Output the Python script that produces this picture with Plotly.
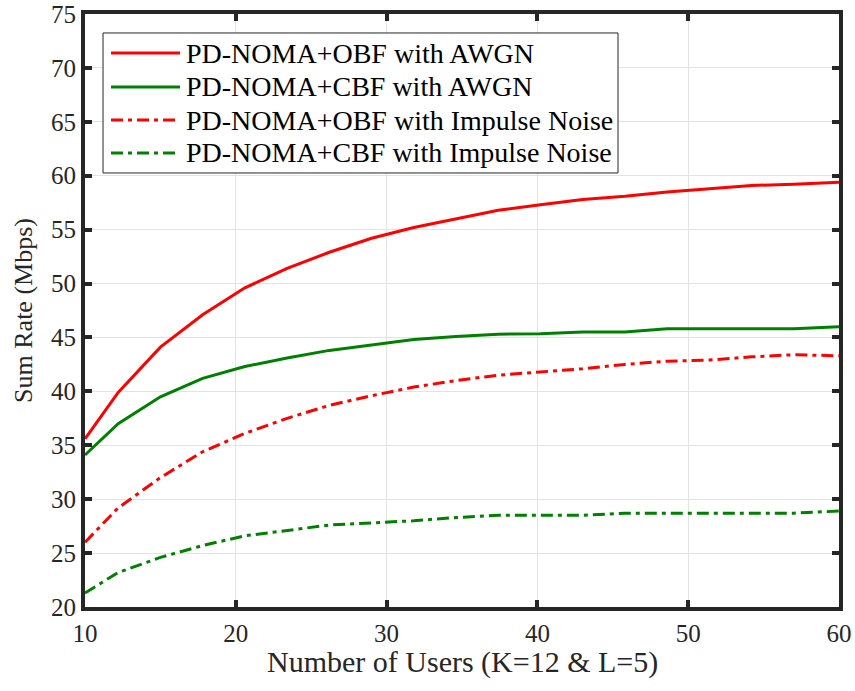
import plotly.graph_objects as go

users = [10, 12.2, 15, 17.8, 20.6, 23.4, 26.2, 29, 31.8, 34.6, 37.4, 40.2, 43, 45.8, 48.6, 51.4, 54.2, 57, 60]
obf_awgn = [35.6, 39.9, 44.1, 47.1, 49.6, 51.4, 52.9, 54.2, 55.2, 56.0, 56.8, 57.3, 57.8, 58.1, 58.5, 58.8, 59.1, 59.2, 59.4]
cbf_awgn = [34.1, 37.0, 39.5, 41.2, 42.3, 43.1, 43.8, 44.3, 44.8, 45.1, 45.3, 45.35, 45.5, 45.5, 45.8, 45.8, 45.8, 45.8, 46.0]
obf_imp = [26.0, 29.2, 32.0, 34.4, 36.1, 37.5, 38.7, 39.6, 40.4, 41.0, 41.5, 41.8, 42.1, 42.5, 42.8, 42.9, 43.2, 43.4, 43.3]
cbf_imp = [21.3, 23.2, 24.6, 25.7, 26.6, 27.1, 27.6, 27.8, 28.0, 28.3, 28.5, 28.5, 28.5, 28.7, 28.7, 28.7, 28.7, 28.7, 28.9]

names = ["PD-NOMA+OBF with AWGN", "PD-NOMA+CBF with AWGN",
         "PD-NOMA+OBF with Impulse Noise", "PD-NOMA+CBF with Impulse Noise"]
colors = ["#FF0000", "#008000", "#FF0000", "#008000"]
DASHDOT = "12px,5px,4px,5px"
dashes = ["solid", "solid", DASHDOT, DASHDOT]
series = [obf_awgn, cbf_awgn, obf_imp, cbf_imp]

SERIF = "Liberation Serif, Times New Roman, serif"
INK = "#262626"

fig = go.Figure()
for n, c, d, s in zip(names, colors, dashes, series):
    fig.add_trace(go.Scatter(x=users, y=s, mode="lines", name=n, showlegend=False,
                             line=dict(color=c, width=3, dash=d)))

axis_common = dict(
    showline=True, linecolor=INK, linewidth=4, mirror="ticks",
    ticks="inside", ticklen=7, tickwidth=4, tickcolor=INK,
    showgrid=True, gridcolor="#e3e3e3", gridwidth=1, zeroline=False,
    automargin=False,
    tickfont=dict(family=SERIF, size=25, color=INK),
)

# custom legend (box, sample lines, labels) in paper coordinates
box = dict(x0=0.0239, x1=0.7069, y0=0.7319, y1=0.968)
row_y = [0.9342, 0.8769, 0.8212, 0.7656]
shapes = [dict(type="rect", xref="paper", yref="paper", layer="above",
               fillcolor="white", line=dict(color=INK, width=1), **box)]
annotations = []
for yy, n, c, d in zip(row_y, names, colors, dashes):
    shapes.append(dict(type="line", xref="paper", yref="paper", layer="above",
                       x0=0.0345, x1=0.126, y0=yy, y1=yy,
                       line=dict(color=c, width=3, dash=d)))
    annotations.append(dict(xref="paper", yref="paper", x=0.1315, y=yy,
                            xanchor="left", yanchor="middle", showarrow=False,
                            text=n, font=dict(family=SERIF, size=28, color="black")))

# x-axis title as annotation for precise placement
annotations.append(dict(xref="paper", yref="paper", x=0.5, y=-0.0925,
                        xanchor="center", yanchor="middle", showarrow=False,
                        text="Number of Users (K=12 & L=5)",
                        font=dict(family=SERIF, size=30, color=INK)))

fig.update_layout(
    width=855, height=691,
    margin=dict(l=85, r=16, t=14, b=84),
    paper_bgcolor="white", plot_bgcolor="white",
    font=dict(family=SERIF, color=INK),
    xaxis=dict(range=[10, 60], tickvals=[10, 20, 30, 40, 50, 60],
               ticklabelstandoff=1,
               **axis_common),
    yaxis=dict(range=[20, 75], tickvals=list(range(20, 80, 5)),
               title=dict(text="Sum Rate (Mbps)", standoff=12,
                          font=dict(family=SERIF, size=26, color=INK)),
               **axis_common),
    shapes=shapes, annotations=annotations,
    showlegend=False,
)

fig.write_html("out.html")
